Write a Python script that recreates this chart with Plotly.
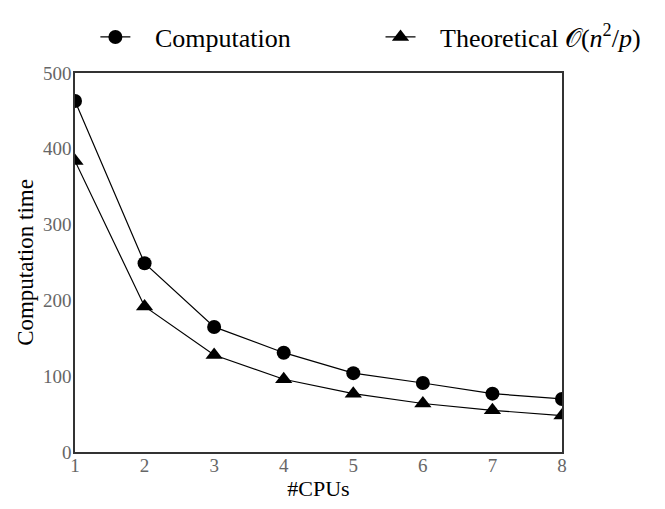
import plotly.graph_objects as go

cpus = [1, 2, 3, 4, 5, 6, 7, 8]
computation = [463, 249, 165, 131, 104, 91, 77, 70]
theoretical = [384, 192, 128, 96, 77, 64, 55, 48]
x_ticks = [1, 2, 3, 4, 5, 6, 7, 8]
y_ticks = [0, 100, 200, 300, 400, 500]

FONT = "Liberation Serif"
SP = "&nbsp;"

# the page body has an 8px default margin, so the figure is 8px smaller
W, H = 657, 501

fig = go.Figure()
fig.add_trace(go.Scatter(
    x=cpus, y=computation, mode="lines+markers",
    name=SP * 3 + "Computation",
    line=dict(color="black", width=1.2),
    marker=dict(symbol="circle", size=14, color="black"),
    legend="legend",
))
fig.add_trace(go.Scatter(
    x=cpus, y=theoretical, mode="lines+markers",
    name=SP * 3 + "Theoretical 𝒪(<i>n</i><sup>2</sup>/<i>p</i>)",
    line=dict(color="black", width=1.2),
    marker=dict(symbol="triangle-up", size=15, color="black"),
    legend="legend2",
))

leg_common = dict(orientation="h", xref="container", yref="container",
                  xanchor="left", yanchor="middle",
                  font=dict(family=FONT, size=26, color="black"),
                  bgcolor="rgba(0,0,0,0)")

fig.update_layout(
    width=W, height=H,
    margin=dict(l=67, r=103, t=65, b=57, autoexpand=False),
    paper_bgcolor="white", plot_bgcolor="white",
    font=dict(family=FONT, size=20, color="black"),
    showlegend=True,
    legend=dict(x=0.133, y=0.942, **leg_common),
    legend2=dict(x=0.567, y=0.942, **leg_common),
    xaxis=dict(
        range=[1, 8], tickvals=x_ticks, ticks="", showgrid=False, zeroline=False,
        showline=True, linecolor="#333", linewidth=1.5, mirror=True,
        tickfont=dict(family=FONT, size=19, color="#666"), ticklabelstandoff=-5,
        title=dict(text="#CPUs", font=dict(family=FONT, size=22, color="black"), standoff=0),
    ),
    yaxis=dict(
        range=[0, 500], tickvals=y_ticks, ticks="", showgrid=False, zeroline=False,
        showline=True, linecolor="#333", linewidth=1.5, mirror=True,
        tickfont=dict(family=FONT, size=19, color="#666"), ticklabelstandoff=-2,
        title=dict(text="Computation time", font=dict(family=FONT, size=23, color="black"), standoff=3),
    ),
)

fig.write_html("out.html")
